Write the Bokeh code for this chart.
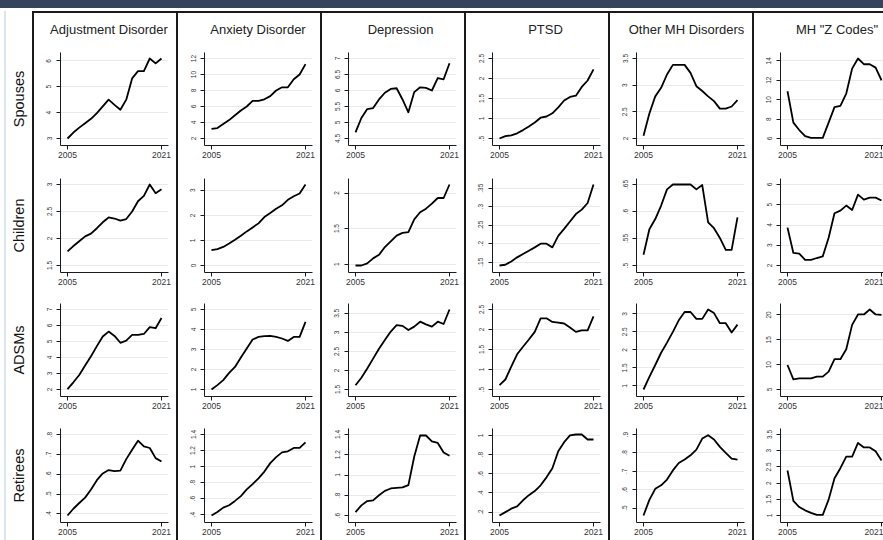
import math
from bokeh.plotting import figure
from bokeh.layouts import row, column
from bokeh.models import Div, FixedTicker, Range1d, CustomJSTickFormatter, Spacer, Title
from bokeh.embed import file_html
from bokeh.resources import INLINE
from bokeh.core.properties import value

# ---------------- data ----------------
years = list(range(2005, 2022))
x_ticks = [2005, 2021]
groups = ["Spouses", "Children", "ADSMs", "Retirees"]
conditions = ["Adjustment Disorder", "Anxiety Disorder", "Depression", "PTSD",
              "Other MH Disorders", 'MH "Z Codes"']

spouses_adj = [3.0, 3.23, 3.42, 3.59, 3.76, 3.98, 4.24, 4.5, 4.3, 4.11, 4.5, 5.32, 5.6, 5.6, 6.09, 5.9, 6.09]
spouses_anx = [3.2, 3.3, 3.8, 4.3, 4.9, 5.5, 6.0, 6.7, 6.7, 6.9, 7.3, 8.0, 8.4, 8.4, 9.4, 10.0, 11.3]
spouses_dep = [4.69, 5.14, 5.42, 5.45, 5.72, 5.93, 6.05, 6.07, 5.72, 5.32, 5.95, 6.1, 6.08, 6.0, 6.39, 6.35, 6.85]
spouses_ptsd = [0.5, 0.56, 0.58, 0.63, 0.71, 0.8, 0.9, 1.02, 1.05, 1.13, 1.28, 1.45, 1.54, 1.57, 1.79, 1.95, 2.23]
spouses_oth = [2.05, 2.47, 2.79, 2.95, 3.2, 3.38, 3.38, 3.38, 3.23, 2.98, 2.89, 2.79, 2.7, 2.56, 2.56, 2.6, 2.72]
spouses_z = [10.87, 7.63, 6.87, 6.24, 6.07, 6.07, 6.07, 7.63, 9.23, 9.37, 10.63, 13.2, 14.24, 13.65, 13.65, 13.3, 12.0]

children_adj = [1.76, 1.86, 1.95, 2.04, 2.09, 2.19, 2.3, 2.39, 2.37, 2.33, 2.36, 2.5, 2.69, 2.79, 3.0, 2.84, 2.91]
children_anx = [0.61, 0.65, 0.74, 0.88, 1.03, 1.19, 1.36, 1.52, 1.68, 1.93, 2.09, 2.26, 2.4, 2.62, 2.76, 2.87, 3.23]
children_dep = [0.98, 0.98, 1.01, 1.08, 1.13, 1.24, 1.32, 1.4, 1.44, 1.45, 1.63, 1.73, 1.78, 1.85, 1.93, 1.93, 2.12]
children_ptsd = [0.141, 0.143, 0.152, 0.163, 0.172, 0.181, 0.19, 0.2, 0.2, 0.19, 0.221, 0.24, 0.26, 0.28, 0.292, 0.31, 0.36]
children_oth = [0.52, 0.567, 0.586, 0.611, 0.641, 0.65, 0.65, 0.65, 0.65, 0.641, 0.649, 0.58, 0.569, 0.551, 0.529, 0.529, 0.589]
children_z = [3.87, 2.62, 2.59, 2.28, 2.28, 2.37, 2.45, 3.37, 4.58, 4.71, 4.96, 4.74, 5.5, 5.25, 5.35, 5.35, 5.21]

adsm_adj = [2.02, 2.45, 2.91, 3.5, 4.08, 4.71, 5.31, 5.62, 5.35, 4.92, 5.05, 5.41, 5.41, 5.47, 5.9, 5.83, 6.47]
adsm_anx = [1.0, 1.22, 1.47, 1.83, 2.13, 2.6, 3.05, 3.5, 3.63, 3.67, 3.68, 3.63, 3.55, 3.43, 3.63, 3.63, 4.38]
adsm_dep = [1.61, 1.81, 2.05, 2.31, 2.57, 2.8, 3.02, 3.19, 3.17, 3.06, 3.15, 3.28, 3.21, 3.15, 3.28, 3.22, 3.6]
adsm_ptsd = [0.61, 0.75, 1.07, 1.38, 1.57, 1.75, 1.94, 2.28, 2.28, 2.19, 2.17, 2.15, 2.05, 1.94, 1.98, 1.98, 2.33]
adsm_oth = [0.9, 1.25, 1.58, 1.92, 2.2, 2.5, 2.82, 3.05, 3.05, 2.86, 2.86, 3.12, 3.02, 2.74, 2.74, 2.48, 2.7]
adsm_z = [9.93, 7.05, 7.25, 7.25, 7.25, 7.6, 7.6, 8.6, 11.1, 11.1, 13.1, 18.0, 20.1, 20.1, 21.1, 20.1, 20.0]

ret_adj = [0.392, 0.426, 0.455, 0.482, 0.523, 0.57, 0.604, 0.621, 0.616, 0.618, 0.676, 0.723, 0.769, 0.74, 0.732, 0.681, 0.664]
ret_anx = [0.39, 0.433, 0.488, 0.518, 0.572, 0.631, 0.715, 0.782, 0.854, 0.938, 1.043, 1.118, 1.177, 1.19, 1.232, 1.232, 1.303]
ret_dep = [0.633, 0.7, 0.743, 0.75, 0.8, 0.843, 0.867, 0.873, 0.877, 0.9, 1.183, 1.39, 1.39, 1.333, 1.317, 1.223, 1.19]
ret_ptsd = [0.165, 0.2, 0.236, 0.26, 0.324, 0.377, 0.42, 0.48, 0.563, 0.658, 0.835, 0.93, 1.0, 1.01, 1.01, 0.958, 0.958]
ret_oth = [0.46, 0.545, 0.605, 0.624, 0.655, 0.705, 0.745, 0.764, 0.787, 0.818, 0.878, 0.896, 0.873, 0.833, 0.8, 0.769, 0.764]
ret_z = [2.39, 1.45, 1.26, 1.16, 1.08, 1.02, 1.02, 1.49, 2.15, 2.46, 2.82, 2.82, 3.24, 3.1, 3.1, 2.98, 2.7]

spouses_ticks = [[3, 4, 5, 6], [2, 4, 6, 8, 10, 12], [4.5, 5, 5.5, 6, 6.5, 7],
                 [0.5, 1, 1.5, 2, 2.5], [2, 2.5, 3, 3.5], [6, 8, 10, 12, 14]]
children_ticks = [[1.5, 2, 2.5, 3], [0, 1, 2, 3], [1, 1.5, 2],
                  [0.15, 0.2, 0.25, 0.3, 0.35], [0.5, 0.55, 0.6, 0.65], [2, 3, 4, 5, 6]]
adsm_ticks = [[2, 3, 4, 5, 6, 7], [1, 2, 3, 4, 5], [1.5, 2, 2.5, 3, 3.5],
              [0.5, 1, 1.5, 2, 2.5], [1, 1.5, 2, 2.5, 3], [5, 10, 15, 20]]
ret_ticks = [[0.4, 0.5, 0.6, 0.7, 0.8], [0.4, 0.6, 0.8, 1, 1.2, 1.4], [0.6, 0.8, 1, 1.2, 1.4],
             [0.2, 0.4, 0.6, 0.8, 1], [0.5, 0.6, 0.7, 0.8, 0.9], [1, 1.5, 2, 2.5, 3, 3.5]]

series = [
    [spouses_adj, spouses_anx, spouses_dep, spouses_ptsd, spouses_oth, spouses_z],
    [children_adj, children_anx, children_dep, children_ptsd, children_oth, children_z],
    [adsm_adj, adsm_anx, adsm_dep, adsm_ptsd, adsm_oth, adsm_z],
    [ret_adj, ret_anx, ret_dep, ret_ptsd, ret_oth, ret_z],
]
ticks_all = [spouses_ticks, children_ticks, adsm_ticks, ret_ticks]

# ---------------- layout / style ----------------
FONT = "Liberation Sans"
COL_W = 142
LAST_W = 129
LEFT = 26
RIGHT = 8
LABEL_W = 26
HEADER_H = 35
LINE_W = 2
BAND_H = 8
GAP_H = 3
BODY_H = 529
BORDER = "#1a1a1a"
ROW_SPECS = [(120, 4, 23), (125, 10, 21), (125, 10, 22), (122, 10, 18)]
XPAD_L, XPAD_R = 7, 7
YPAD_T, YPAD_B = 6, 7
TITLE_SIZE = 13
TITLE_CENTER = [74.5, 79.5, 78, 79, 76, 82.5]   # px from each column's left edge
LABEL_X = 12

# Arial / Liberation Sans advance widths (em/1000) for title centring
_W = {' ': 278, '"': 355, 'A': 667, 'C': 722, 'D': 722, 'H': 722, 'M': 833, 'O': 778,
      'P': 667, 'S': 667, 'T': 611, 'Z': 611, 'a': 556, 'd': 556, 'e': 556, 'h': 556,
      'i': 222, 'j': 222, 'm': 833, 'n': 556, 'o': 556, 'p': 556, 'r': 333, 's': 500,
      't': 278, 'u': 556, 'x': 500, 'y': 500}


def text_w(s, size):
    return sum(_W.get(c, 556) for c in s) / 1000.0 * size


k_x = (COL_W - LEFT - RIGHT - XPAD_L - XPAD_R) / (x_ticks[1] - x_ticks[0])
x0 = x_ticks[0] - XPAD_L / k_x
x1 = x_ticks[1] + XPAD_R / k_x
x1_last = x0 + (LAST_W - LEFT) / k_x


def blank(w, h, xr, yr, left=0, right=0, top=0, bottom=0):
    p = figure(width=w, height=h, x_range=Range1d(*xr), y_range=Range1d(*yr),
               x_axis_location=None, y_axis_location=None,
               min_border_left=left, min_border_right=right,
               min_border_top=top, min_border_bottom=bottom,
               toolbar_location=None, tools="", output_backend="svg")
    p.grid.visible = False
    p.outline_line_color = None
    p.background_fill_color = "white"
    p.border_fill_color = "white"
    return p


def panel(vals, ticks, w, h, top, bottom, last):
    fh = h - top - bottom
    lo = min(min(vals), ticks[0])
    hi = max(max(vals), ticks[-1])
    ky = (fh - YPAD_T - YPAD_B) / (hi - lo)
    p = figure(width=w, height=h,
               x_range=Range1d(x0, x1_last if last else x1),
               y_range=Range1d(lo - YPAD_B / ky, hi + YPAD_T / ky),
               min_border_left=LEFT, min_border_right=0 if last else RIGHT,
               min_border_top=top, min_border_bottom=bottom,
               toolbar_location=None, tools="", output_backend="svg")
    p.line(years, vals, line_color="black", line_width=1.8, line_join="round")
    p.outline_line_color = None
    p.background_fill_color = "white"
    p.border_fill_color = "white"
    p.xgrid.visible = False
    p.ygrid.grid_line_color = "#e3ebee"
    p.ygrid.grid_line_width = 1

    xa = p.xaxis[0]
    xa.ticker = FixedTicker(ticks=x_ticks)
    xa.major_label_text_font = FONT
    xa.major_label_text_font_size = "8.5px"
    xa.major_label_text_color = "#333333"
    xa.axis_line_color = BORDER
    xa.major_tick_line_color = BORDER
    xa.major_tick_out = 4
    xa.major_tick_in = 0
    xa.minor_tick_line_color = None
    xa.major_label_standoff = 2

    ya = p.yaxis[0]
    ya.ticker = FixedTicker(ticks=ticks)
    ya.formatter = CustomJSTickFormatter(code="return String(tick).replace(/^0\\./, '.');")
    ya.major_label_orientation = "vertical"
    ya.major_label_text_font = FONT
    ya.major_label_text_font_size = "6.5px"
    ya.major_label_text_color = "#333333"
    ya.axis_line_color = BORDER
    ya.major_tick_line_color = BORDER
    ya.major_tick_out = 4
    ya.major_tick_in = 0
    ya.minor_tick_line_color = None
    ya.major_label_standoff = 5
    return p


def solid(w, h, color):
    return Div(text="", width=w, height=h, margin=0,
               styles={"background-color": color})


# left block: faint slide edge + row labels
label_figs = [Spacer(width=LABEL_W, height=LINE_W + HEADER_H)]
for gi, g in enumerate(groups):
    h, top, bottom = ROW_SPECS[gi]
    lp = blank(LABEL_W, h, (0, LABEL_W), (-1, 1), top=top, bottom=bottom)
    lp.text(x=[LABEL_X], y=[0], text=[g], angle=math.pi / 2,
            text_font=value(FONT), text_font_size=value("14.5px"),
            text_color="#111111", text_align="center", text_baseline="middle")
    label_figs.append(lp)
left_block = row(Spacer(width=4, height=BODY_H), solid(2, BODY_H, "#d9e6ee"),
                 column(*label_figs, spacing=0), spacing=0)
items = [left_block]

for ci, cond in enumerate(conditions):
    last = ci == len(conditions) - 1
    w = LAST_W if last else COL_W
    right = 0 if last else RIGHT
    hdr = blank(w, HEADER_H, (0, 1), (0, 1), left=LEFT, right=right, top=23, bottom=0)
    offset = TITLE_CENTER[ci] - text_w(cond, TITLE_SIZE) / 2 - LEFT
    hdr.add_layout(Title(text=cond, align="left", offset=offset, standoff=0,
                         vertical_align="bottom", text_font=FONT,
                         text_font_size=f"{TITLE_SIZE}px", text_font_style="normal",
                         text_color="#222222"), "above")
    kids = [solid(w, LINE_W, BORDER), hdr]
    for gi in range(len(groups)):
        h, top, bottom = ROW_SPECS[gi]
        kids.append(panel(series[gi][ci], ticks_all[gi][ci], w, h, top, bottom, last))
    items.append(solid(LINE_W, BODY_H, BORDER))
    items.append(column(*kids, spacing=0))

total_w = 4 + 2 + LABEL_W + len(conditions) * LINE_W + 5 * COL_W + LAST_W
layout = column(solid(total_w, BAND_H, "#35435d"), Spacer(width=total_w, height=GAP_H),
                row(*items, spacing=0), spacing=0)

open("out.html", "w").write(file_html(layout, INLINE, "Mental health diagnoses"))
